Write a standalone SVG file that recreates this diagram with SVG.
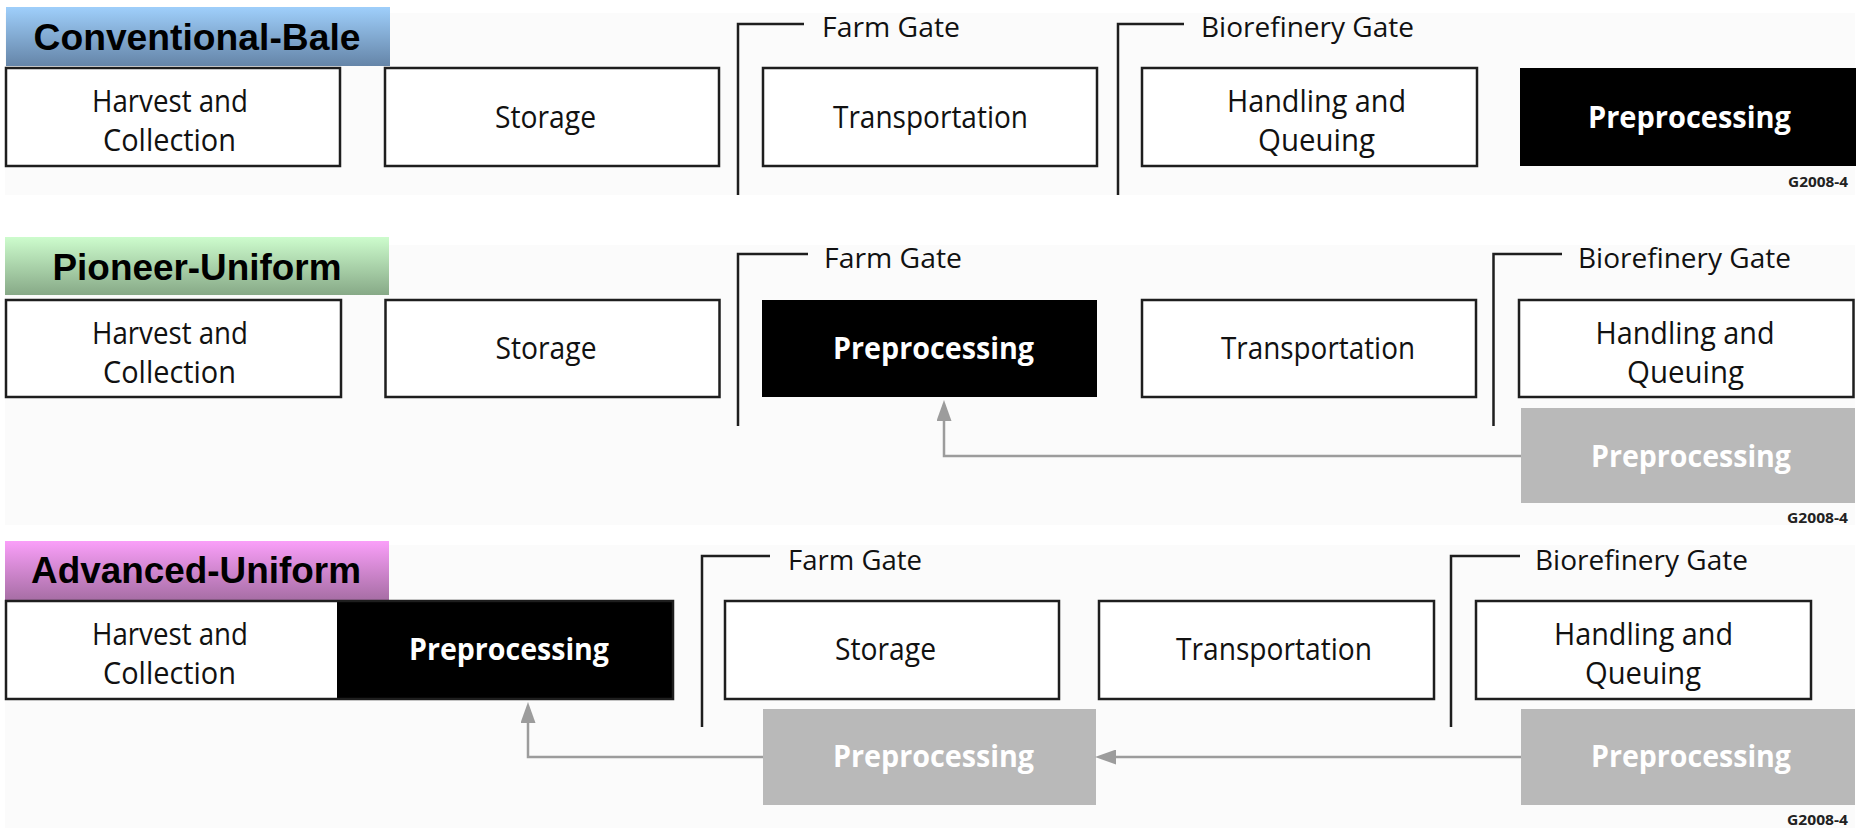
<svg xmlns="http://www.w3.org/2000/svg" width="1860" height="830" viewBox="0 0 1860 830">
  <defs>
    <linearGradient id="gBlue" x1="0" y1="0" x2="0" y2="1">
      <stop offset="0" stop-color="#9fcffb"/>
      <stop offset="1" stop-color="#6585a8"/>
    </linearGradient>
    <linearGradient id="gGreen" x1="0" y1="0" x2="0" y2="1">
      <stop offset="0" stop-color="#cdfccd"/>
      <stop offset="1" stop-color="#87a987"/>
    </linearGradient>
    <linearGradient id="gPink" x1="0" y1="0" x2="0" y2="1">
      <stop offset="0" stop-color="#fa9ff9"/>
      <stop offset="1" stop-color="#a76ea5"/>
    </linearGradient>
    <marker id="head" viewBox="0 0 21 15" refX="0" refY="7.5" markerWidth="21" markerHeight="15" markerUnits="userSpaceOnUse" orient="auto">
      <path d="M0,0 L21,7.5 L0,15 Z" fill="#9c9c9c"/>
    </marker>
    <style>
      .panel { fill: #fbfbfb; }
      .box { fill: #ffffff; stroke: #1e1e1e; stroke-width: 2.5; }
      .dark { fill: #000000; }
      .ghost { fill: #b9b9b9; }
      .gate { fill: none; stroke: #1e1e1e; stroke-width: 2.5; }
      .link { fill: none; stroke: #9c9c9c; stroke-width: 2.5; }
      .title { font-family: "Liberation Sans", Arial, sans-serif; font-weight: bold; font-size: 36px; fill: #000; text-anchor: middle; }
      .lbl { font-family: "Open Sans", "Liberation Sans", sans-serif; font-size: 31px; fill: #111; text-anchor: middle; }
      .pp { font-family: "Open Sans", "Liberation Sans", sans-serif; font-size: 31px; font-weight: bold; fill: #ffffff; text-anchor: middle; }
      .gl { font-family: "Open Sans", "Liberation Sans", sans-serif; font-size: 27px; fill: #111; }
      .code { font-family: "Open Sans", "Liberation Sans", sans-serif; font-size: 14px; font-weight: bold; fill: #222; }
    </style>
  </defs>

  <rect width="1860" height="830" fill="#ffffff"/>

  <!-- panel backgrounds -->
  <rect class="panel" x="5" y="13" width="1850" height="182"/>
  <rect class="panel" x="5" y="245" width="1850" height="280"/>
  <rect class="panel" x="5" y="545" width="1850" height="283"/>

  <!-- ===== Conventional-Bale ===== -->
  <g id="cb-title">
    <rect x="6" y="7" width="384" height="59" fill="url(#gBlue)"/>
    <text class="title" x="197" y="50" textLength="327" lengthAdjust="spacingAndGlyphs">Conventional-Bale</text>
  </g>
  <g id="cb-harvest">
    <rect class="box" x="6" y="68" width="334" height="98"/>
    <text class="lbl" x="170" y="112" textLength="156" lengthAdjust="spacingAndGlyphs">Harvest and</text>
    <text class="lbl" x="169.5" y="151" textLength="133" lengthAdjust="spacingAndGlyphs">Collection</text>
  </g>
  <g id="cb-storage">
    <rect class="box" x="385" y="68" width="334" height="98"/>
    <text class="lbl" x="545.5" y="128" textLength="101" lengthAdjust="spacingAndGlyphs">Storage</text>
  </g>
  <g id="cb-farmgate">
    <path class="gate" d="M738,195 V24 H804"/>
    <text class="gl" x="822" y="37" textLength="138" lengthAdjust="spacingAndGlyphs">Farm Gate</text>
  </g>
  <g id="cb-transport">
    <rect class="box" x="763" y="68" width="334" height="98"/>
    <text class="lbl" x="930.5" y="128" textLength="195" lengthAdjust="spacingAndGlyphs">Transportation</text>
  </g>
  <g id="cb-biogate">
    <path class="gate" d="M1118,195 V24 H1184"/>
    <text class="gl" x="1201" y="37" textLength="213" lengthAdjust="spacingAndGlyphs">Biorefinery Gate</text>
  </g>
  <g id="cb-handling">
    <rect class="box" x="1142" y="68" width="335" height="98"/>
    <text class="lbl" x="1316.5" y="112" textLength="179" lengthAdjust="spacingAndGlyphs">Handling and</text>
    <text class="lbl" x="1316.5" y="151" textLength="117" lengthAdjust="spacingAndGlyphs">Queuing</text>
  </g>
  <g id="cb-preprocess">
    <rect class="dark" x="1520" y="68" width="336" height="98"/>
    <text class="pp" x="1689.5" y="128" textLength="203" lengthAdjust="spacingAndGlyphs">Preprocessing</text>
  </g>
  <text class="code" x="1788" y="187" textLength="60" lengthAdjust="spacingAndGlyphs">G2008-4</text>

  <!-- ===== Pioneer-Uniform ===== -->
  <g id="pu-title">
    <rect x="5" y="237" width="384" height="58" fill="url(#gGreen)"/>
    <text class="title" x="197" y="280" textLength="289" lengthAdjust="spacingAndGlyphs">Pioneer-Uniform</text>
  </g>
  <g id="pu-harvest">
    <rect class="box" x="6" y="300" width="335" height="97"/>
    <text class="lbl" x="170" y="344" textLength="156" lengthAdjust="spacingAndGlyphs">Harvest and</text>
    <text class="lbl" x="169.5" y="383" textLength="133" lengthAdjust="spacingAndGlyphs">Collection</text>
  </g>
  <g id="pu-storage">
    <rect class="box" x="385.5" y="300" width="334" height="97"/>
    <text class="lbl" x="546" y="359" textLength="101" lengthAdjust="spacingAndGlyphs">Storage</text>
  </g>
  <g id="pu-farmgate">
    <path class="gate" d="M738,426 V254 H808"/>
    <text class="gl" x="824" y="268" textLength="138" lengthAdjust="spacingAndGlyphs">Farm Gate</text>
  </g>
  <g id="pu-preprocess">
    <rect class="dark" x="762" y="300" width="335" height="97"/>
    <text class="pp" x="933.5" y="359" textLength="201" lengthAdjust="spacingAndGlyphs">Preprocessing</text>
  </g>
  <g id="pu-transport">
    <rect class="box" x="1142" y="300" width="334" height="97"/>
    <text class="lbl" x="1318" y="359" textLength="194" lengthAdjust="spacingAndGlyphs">Transportation</text>
  </g>
  <g id="pu-biogate">
    <path class="gate" d="M1493.5,426 V254 H1562"/>
    <text class="gl" x="1578" y="268" textLength="213" lengthAdjust="spacingAndGlyphs">Biorefinery Gate</text>
  </g>
  <g id="pu-handling">
    <rect class="box" x="1519" y="300" width="334.5" height="97"/>
    <text class="lbl" x="1685" y="344" textLength="179" lengthAdjust="spacingAndGlyphs">Handling and</text>
    <text class="lbl" x="1685.5" y="383" textLength="117" lengthAdjust="spacingAndGlyphs">Queuing</text>
  </g>
  <g id="pu-preprocess-alt">
    <rect class="ghost" x="1521" y="408" width="334" height="95"/>
    <text class="pp" x="1691" y="467" textLength="200" lengthAdjust="spacingAndGlyphs">Preprocessing</text>
  </g>
  <text class="code" x="1787" y="523" textLength="61" lengthAdjust="spacingAndGlyphs">G2008-4</text>

  <!-- ===== Advanced-Uniform ===== -->
  <g id="au-title">
    <rect x="5" y="541" width="384" height="59" fill="url(#gPink)"/>
    <text class="title" x="196" y="583" textLength="330" lengthAdjust="spacingAndGlyphs">Advanced-Uniform</text>
  </g>
  <g id="au-harvest-preprocess">
    <rect x="6" y="601" width="331" height="98" fill="#ffffff"/>
    <rect x="337" y="601" width="336" height="98" fill="#000"/>
    <rect x="6" y="601" width="667" height="98" fill="none" stroke="#1e1e1e" stroke-width="2.5"/>
    <text class="lbl" x="170" y="645" textLength="156" lengthAdjust="spacingAndGlyphs">Harvest and</text>
    <text class="lbl" x="169.5" y="684" textLength="133" lengthAdjust="spacingAndGlyphs">Collection</text>
    <text class="pp" x="509" y="660" textLength="200" lengthAdjust="spacingAndGlyphs">Preprocessing</text>
  </g>
  <g id="au-farmgate">
    <path class="gate" d="M702,727 V556 H770"/>
    <text class="gl" x="788" y="570" textLength="134" lengthAdjust="spacingAndGlyphs">Farm Gate</text>
  </g>
  <g id="au-storage">
    <rect class="box" x="725" y="601" width="334" height="98"/>
    <text class="lbl" x="885.5" y="660" textLength="101" lengthAdjust="spacingAndGlyphs">Storage</text>
  </g>
  <g id="au-transport">
    <rect class="box" x="1099" y="601" width="335" height="98"/>
    <text class="lbl" x="1274" y="660" textLength="196" lengthAdjust="spacingAndGlyphs">Transportation</text>
  </g>
  <g id="au-biogate">
    <path class="gate" d="M1451,727 V556 H1520"/>
    <text class="gl" x="1535" y="570" textLength="213" lengthAdjust="spacingAndGlyphs">Biorefinery Gate</text>
  </g>
  <g id="au-handling">
    <rect class="box" x="1476" y="601" width="335" height="98"/>
    <text class="lbl" x="1643.5" y="645" textLength="179" lengthAdjust="spacingAndGlyphs">Handling and</text>
    <text class="lbl" x="1643" y="684" textLength="116" lengthAdjust="spacingAndGlyphs">Queuing</text>
  </g>
  <g id="au-preprocess-mid">
    <rect class="ghost" x="763" y="709" width="333" height="96"/>
    <text class="pp" x="933.5" y="767" textLength="201" lengthAdjust="spacingAndGlyphs">Preprocessing</text>
  </g>
  <g id="au-preprocess-end">
    <rect class="ghost" x="1521" y="709" width="334" height="96"/>
    <text class="pp" x="1691" y="767" textLength="200" lengthAdjust="spacingAndGlyphs">Preprocessing</text>
  </g>
  <text class="code" x="1787" y="825" textLength="61" lengthAdjust="spacingAndGlyphs">G2008-4</text>

  <!-- connectors -->
  <g id="connectors">
    <path class="link" d="M1521,456 H944 V421" marker-end="url(#head)"/>
    <path class="link" d="M1521,757 H1116" marker-end="url(#head)"/>
    <path class="link" d="M763,757 H528 V723" marker-end="url(#head)"/>
  </g>
</svg>
